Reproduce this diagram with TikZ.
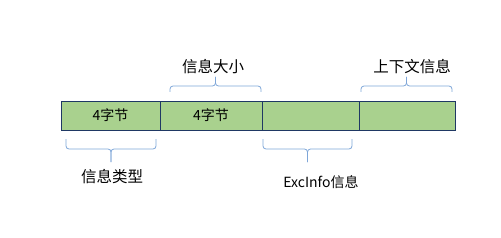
\documentclass[tikz,border=0pt]{standalone}
\usepackage{fontspec}
\setmainfont{Noto Sans CJK SC}
\usetikzlibrary{positioning}
\definecolor{cellgreen}{HTML}{A9D18E}
\definecolor{cellborder}{HTML}{1F3864}
\definecolor{bracecol}{HTML}{7EA6D8}
\tikzset{
  field/.style={draw=cellborder, fill=cellgreen, line width=0.9pt, outer sep=0pt,
    inner sep=0pt, minimum height=29pt, font=\fontsize{14}{16}\selectfont},
  bracket/.style={draw=bracecol, line width=0.8pt, rounded corners=3pt},
  caption/.style={inner sep=0pt, font=\fontsize{15.5}{17}\selectfont}
}
\begin{document}
\begin{tikzpicture}[x=1pt,y=-1pt]
  \useasboundingbox (0,0) rectangle (501,238);
  % the four fields
  \node [field, minimum width=99pt, anchor=north west] (typ) at (61,101) {4字节};
  \node [field, minimum width=102pt, right=0pt of typ] (len) {4字节};
  \node [field, minimum width=97pt, right=0pt of len] (exc) {};
  \node [field, minimum width=96pt, right=0pt of exc] (ctx) {};
  % braces above
  \coordinate (lentip) at (215.5,77);
  \draw [bracket] (170,92) |- (215.5,86) -- (lentip);
  \draw [bracket] (261,92) |- (215.5,86) -- (lentip);
  \node [caption] (lenlab) at (213,67) {信息大小};
  \coordinate (ctxtip) at (406.5,77);
  \draw [bracket] (361,92) |- (406.5,86) -- (ctxtip);
  \draw [bracket] (452,92) |- (406.5,86) -- (ctxtip);
  \node [caption] (ctxlab) at (412,67) {上下文信息};
  % braces below
  \coordinate (typtip) at (111,162);
  \draw [bracket] (66,139) |- (111,149) -- (typtip);
  \draw [bracket] (156,139) |- (111,149) -- (typtip);
  \node [caption] (typlab) at (112,177) {信息类型};
  \coordinate (exctip) at (307.5,162);
  \draw [bracket] (263,139) |- (307.5,149) -- (exctip);
  \draw [bracket] (352,139) |- (307.5,149) -- (exctip);
  \node [caption, font=\fontsize{14}{16}\selectfont] (exclab) at (321,182) {ExcInfo信息};
\end{tikzpicture}
\end{document}
